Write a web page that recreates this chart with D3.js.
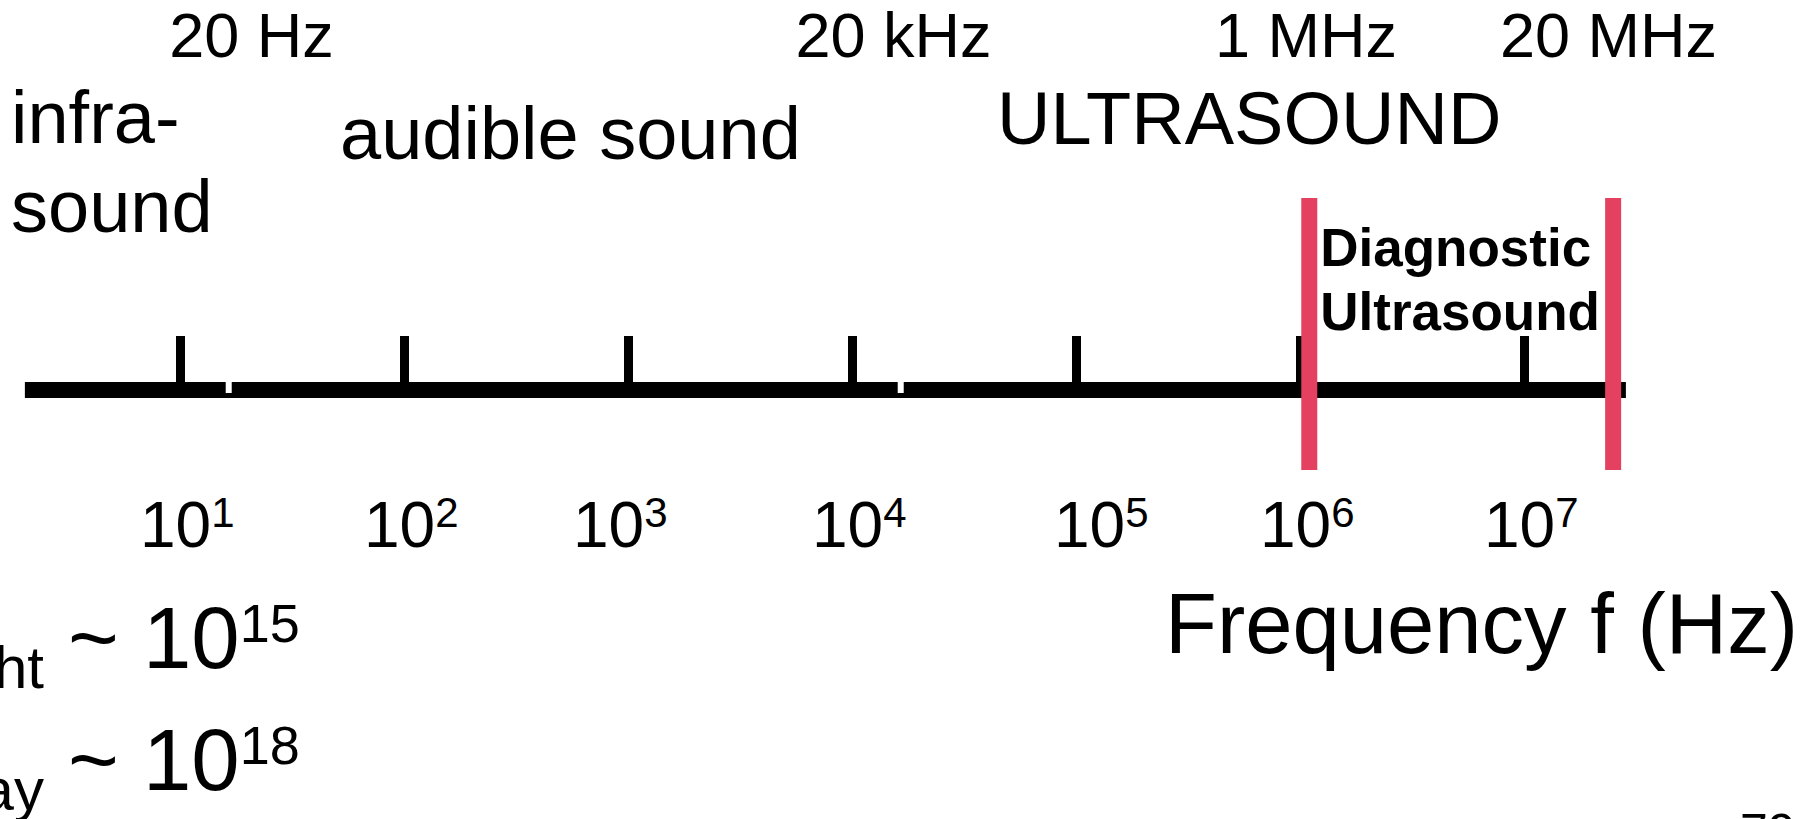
<!DOCTYPE html>
<html>
<head>
<meta charset="utf-8">
<script src="https://cdn.jsdelivr.net/npm/d3@7"></script>
<style>
  body { margin: 0; background: #fff; overflow: hidden; }
  text { font-family: "Liberation Sans", Arial, sans-serif; fill: #000; }
</style>
</head>
<body>
<script>
var w = 1806, h = 819;

// decades shown on the axis
var tickValues = [1e1, 1e2, 1e3, 1e4, 1e5, 1e6, 1e7];
var tickExps = ["1", "2", "3", "4", "5", "6", "7"];
// boundary labels along the top
var boundLabels = ["20 Hz", "20 kHz", "1 MHz", "20 MHz"];
var boundFreqs = [20, 2e4, 1e6, 2e7];
// region names
var regionNames = ["infra-", "sound", "audible sound", "ULTRASOUND"];
// diagnostic ultrasound band (red bars)
var diagRange = [1.1e6, 2.5e7];
var diagLabel = ["Diagnostic", "Ultrasound"];
// small white notches on the axis bar
var notchFreqs = [16.5, 16500];
// visible extent of the axis bar
var axisExtent = [2.03, 2.85e7];
// comparison lines at the bottom left
var compNames = ["light", "X-ray"];
var compExps = ["15", "18"];

var svg = d3.select("body")
            .append("svg")
            .attr("width", w)
            .attr("height", h);

var x = d3.scaleLog().domain([1e1, 1e7]).range([180, 1524]);

var lineTop = 382, lineH = 16;

// main bar
svg.append("rect")
   .attr("x", x(axisExtent[0]))
   .attr("y", lineTop)
   .attr("width", x(axisExtent[1]) - x(axisExtent[0]))
   .attr("height", lineH)
   .attr("fill", "#000");

// decade ticks, pointing up
var axis = d3.axisTop(x)
             .tickValues(tickValues)
             .tickSize(46)
             .tickSizeOuter(0)
             .tickFormat("");
var ag = svg.append("g")
            .attr("transform", "translate(0," + lineTop + ")")
            .call(axis);
ag.select(".domain").remove();
ag.selectAll(".tick line")
  .attr("stroke", "#000")
  .attr("stroke-width", 9);

svg.selectAll(".notch")
   .data(notchFreqs)
   .enter()
   .append("rect")
   .attr("class", "notch")
   .attr("x", function(d) { return x(d) - 3; })
   .attr("y", lineTop)
   .attr("width", 6)
   .attr("height", 11)
   .attr("fill", "#fff");

// tick labels 10^n
var nudge = [0, 0, -15, 0, 18, 0, 0];
var tl = svg.selectAll(".tlab")
            .data(tickValues)
            .enter()
            .append("text")
            .attr("class", "tlab")
            .attr("x", function(d, i) { return x(d) - 40 + nudge[i]; })
            .attr("y", 547)
            .style("font-size", "64px");
tl.append("tspan").text("10");
tl.append("tspan")
  .attr("dy", -20)
  .style("font-size", "42px")
  .text(function(d, i) { return tickExps[i]; });

// red band lines
svg.selectAll(".diag")
   .data(diagRange)
   .enter()
   .append("rect")
   .attr("class", "diag")
   .attr("x", function(d) { return x(d) - 8; })
   .attr("y", 198)
   .attr("width", 16)
   .attr("height", 272)
   .attr("fill", "#e4405f");

svg.selectAll(".diaglab")
   .data(diagLabel)
   .enter()
   .append("text")
   .attr("class", "diaglab")
   .attr("x", x(diagRange[0]) + 11)
   .attr("y", function(d, i) { return 266 + i * 64; })
   .style("font-size", "53px")
   .style("font-weight", "bold")
   .text(function(d) { return d; });

// top boundary labels
var bNudge = [4, -26, 6, 17];
svg.selectAll(".blab")
   .data(boundLabels)
   .enter()
   .append("text")
   .attr("class", "blab")
   .attr("x", function(d, i) { return x(boundFreqs[i]) + bNudge[i]; })
   .attr("y", 57)
   .attr("text-anchor", "middle")
   .style("font-size", "63px")
   .text(function(d) { return d; });

// region names
var regionPos = [[11, 143], [11, 232], [340, 159], [997, 144]];
svg.selectAll(".region")
   .data(regionNames)
   .enter()
   .append("text")
   .attr("class", "region")
   .attr("x", function(d, i) { return regionPos[i][0]; })
   .attr("y", function(d, i) { return regionPos[i][1]; })
   .style("font-size", "74px")
   .text(function(d) { return d; });

// axis title
svg.append("text")
   .attr("x", 1165)
   .attr("y", 653)
   .style("font-size", "85px")
   .text("Frequency f (Hz)");

// f_light ~ 10^15, f_X-ray ~ 10^18 (cut off at left edge)
var compY = [668, 790];
compNames.forEach(function(name, i) {
  var t = svg.append("text")
             .attr("x", 44)
             .attr("y", compY[i] + 20)
             .attr("text-anchor", "end");
  t.append("tspan").style("font-size", "86px").attr("dy", -20).text("f");
  t.append("tspan").style("font-size", "60px").attr("dy", 20).text(name);

  var c = svg.append("text")
             .attr("x", 68)
             .attr("y", compY[i])
             .style("font-size", "87px");
  c.append("tspan").text("~ 10");
  c.append("tspan")
   .attr("dy", -26)
   .style("font-size", "54px")
   .text(compExps[i]);
});

// slide number, mostly off the page
svg.append("text")
   .attr("x", 1740)
   .attr("y", 849)
   .style("font-size", "50px")
   .text("79");
</script>
</body>
</html>
